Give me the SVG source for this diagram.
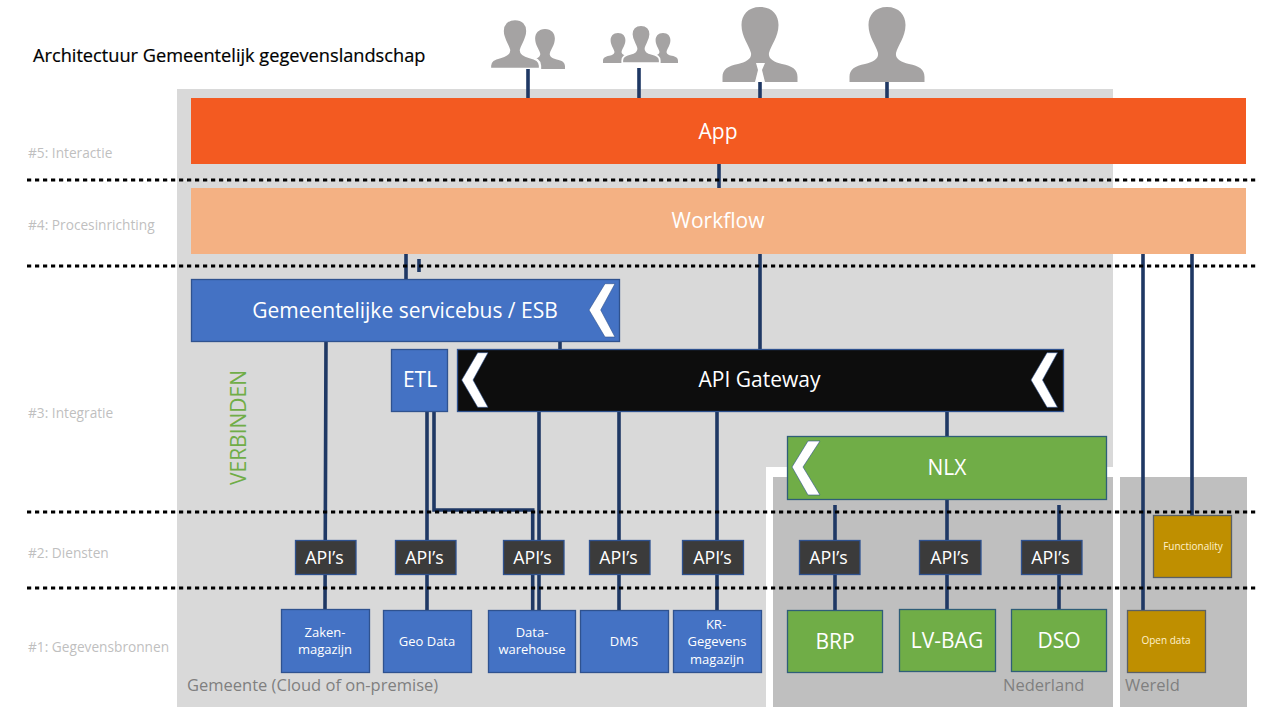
<svg xmlns="http://www.w3.org/2000/svg" xmlns:xlink="http://www.w3.org/1999/xlink" width="1280" height="720" viewBox="0 0 1280 720">
<style>
text{font-family:"Open Sans","Noto Sans","Liberation Sans",sans-serif;text-anchor:middle}
.bl{fill:#4472C4;stroke:#2F528F;stroke-width:1.3}
.gr{fill:#70AD47;stroke:#2F5E78;stroke-width:1.3}
.go{fill:#BF8F00;stroke:#5A6066;stroke-width:1.3}
.ap{fill:#3B3B3B;stroke:#2F528F;stroke-width:1.3}
.w{fill:#fff}
.t21{font-size:21px;fill:#fff}
.t13{font-size:13px;fill:#fff}
.t16{font-size:17.800px;fill:#fff}
.t10{font-size:10px;fill:#FFF2CC}
.lay{font-size:13.700px;fill:#BFBFBF;text-anchor:start}
.reg{font-size:16.500px;fill:#7F7F7F;text-anchor:start}
.ch{fill:#fff;stroke:#2F528F;stroke-width:.6}
#connectors path{fill:none;stroke:#1F3864;stroke-width:3.6}
#dots line{stroke:#000;stroke-width:3.2;stroke-dasharray:4.2 3.8}
.p{fill:#A5A3A3}
</style>
<defs>
<path id="person" d="M0 0C12 0 18.500 8 18.500 18C18.500 30 11 38 9 46C8 52 14 55 22 57C32 59 37.500 62 37.500 70L37.500 75L-37.500 75L-37.500 70C-37.500 62-32 59-22 57C-14 55-8 52-9 46C-11 38-18.500 30-18.500 18C-18.500 8-12 0 0 0Z"/>
</defs>
<rect width="1280" height="720" fill="#fff"/>
<g id="regions">
<rect x="177" y="89" width="936" height="378" fill="#D9D9D9"/>
<rect x="177" y="467" width="589" height="240" fill="#D9D9D9"/>
<rect x="773" y="477" width="340" height="230" fill="#BFBFBF"/>
<rect x="1120" y="477" width="127" height="230" fill="#BFBFBF"/>
<text class="reg" x="187" y="691">Gemeente (Cloud of on-premise)</text>
<text class="reg" x="1003" y="691">Nederland</text>
<text class="reg" x="1125" y="691">Wereld</text>
</g>
<g id="title"><text x="33" y="62" font-size="18.200" fill="#000" stroke="#000" stroke-width=".2" style="text-anchor:start">Architectuur Gemeentelijk gegevenslandschap</text></g>
<g id="layers">
<text class="lay" x="28" y="157.500">#5: Interactie</text>
<text class="lay" x="28" y="229.500">#4: Procesinrichting</text>
<text class="lay" x="28" y="417.500">#3: Integratie</text>
<text class="lay" x="28" y="557.500">#2: Diensten</text>
<text class="lay" x="28" y="651.500">#1: Gegevensbronnen</text>
<text x="238" y="427.500" font-size="21" fill="#70AD47" transform="rotate(-90 238 427.500)" dominant-baseline="central">VERBINDEN</text>
</g>
<g id="users" class="p">
<use xlink:href="#person" href="#person" transform="translate(545 29) scale(.533)"/>
<use xlink:href="#person" href="#person" transform="translate(515 19) scale(.667)" stroke="#fff" stroke-width="3.500"/>
<use xlink:href="#person" href="#person" transform="translate(618 33) scale(.4)"/>
<use xlink:href="#person" href="#person" transform="translate(663 33) scale(.4)"/>
<use xlink:href="#person" href="#person" transform="translate(641 25) scale(.5 .507)" stroke="#fff" stroke-width="3.500"/>
<use xlink:href="#person" href="#person" transform="translate(760 7)"/>
<path class="w" d="M756 63H765L762 70L765 82H755L758 70Z"/>
<use xlink:href="#person" href="#person" transform="translate(887 7)"/>
</g>
<g id="connectors">
<path d="M528 69V98M639 68V98M760 82V98M887 82V98M719 164V188M406 254V279M419 259V272M760 254V349M560 341V349"/>
<path d="M326 341L325 609M427 411V610M434 411V510H532.700V610M539 411V610M619 411V610M717 411V610"/>
<path d="M947 411V436M947 499V610M835 505V610M1059 505V610M1143 254V610M1192 254V515"/>
</g>
<g id="dots">
<line x1="27" y1="180" x2="1256" y2="180"/>
<line x1="27" y1="266" x2="1256" y2="266"/>
<line x1="27" y1="512" x2="1256" y2="512"/>
<line x1="27" y1="588" x2="1256" y2="588"/>
</g>
<g id="app"><rect x="191" y="98" width="1055" height="66" fill="#F35A21"/><text class="t21" x="718" y="139">App</text></g>
<g id="workflow"><rect x="191" y="188" width="1055" height="66" fill="#F4B183"/><text class="t21" x="718" y="228">Workflow</text></g>
<g id="esb"><rect class="bl" x="191.500" y="279.500" width="428" height="62"/><text class="t21" x="405" y="318">Gemeentelijke servicebus / ESB</text><path class="ch" d="M589 310L605 283.700H615L600.700 310L615 337H605Z"/></g>
<g id="etl"><rect class="bl" x="391.500" y="349.500" width="56" height="62"/><text class="t21" x="420" y="387">ETL</text></g>
<g id="gateway"><rect x="457.500" y="349.500" width="606" height="62" fill="#0D0D0D" stroke="#2F528F" stroke-width="1.300"/><text class="t21" x="759.500" y="387">API Gateway</text><path class="ch" d="M461.700 380L477.700 352.700H488L473 380L488 407.300H477.700Z"/><path class="ch" d="M1031 380L1047 352.700H1057.500L1042.500 380L1057.500 407.300H1047Z"/></g>
<g id="nlx"><rect class="gr" x="787.500" y="436.500" width="319" height="63"/><text class="t21" x="947" y="475">NLX</text><path class="ch" d="M792 467L808 441H820L803 467L820 495H808Z"/></g>
<g id="apis">
<g id="api1"><rect class="ap" x="295.500" y="540.500" width="60.500" height="34"/><text class="t16" x="324.500" y="563.500">API’s</text></g>
<g id="api2"><rect class="ap" x="395.500" y="540.500" width="60.500" height="34"/><text class="t16" x="424.500" y="563.500">API’s</text></g>
<g id="api3"><rect class="ap" x="503.500" y="540.500" width="60.500" height="34"/><text class="t16" x="532.500" y="563.500">API’s</text></g>
<g id="api4"><rect class="ap" x="589.500" y="540.500" width="60.500" height="34"/><text class="t16" x="618.500" y="563.500">API’s</text></g>
<g id="api5"><rect class="ap" x="682.500" y="540.500" width="61" height="34"/><text class="t16" x="712.500" y="563.500">API’s</text></g>
<g id="api6"><rect class="ap" x="799.500" y="540.500" width="60.500" height="34"/><text class="t16" x="828.500" y="563.500">API’s</text></g>
<g id="api7"><rect class="ap" x="919.500" y="540.500" width="61.500" height="34"/><text class="t16" x="949.500" y="563.500">API’s</text></g>
<g id="api8"><rect class="ap" x="1021.500" y="540.500" width="60.500" height="34"/><text class="t16" x="1050.500" y="563.500">API’s</text></g>
</g>
<g id="zaken"><rect class="bl" x="281.500" y="609.500" width="88" height="63"/><text class="t13" x="325" y="637">Zaken-</text><text class="t13" x="325" y="654">magazijn</text></g>
<g id="geo"><rect class="bl" x="383.500" y="610.500" width="88" height="62"/><text class="t13" x="427" y="646">Geo Data</text></g>
<g id="dwh"><rect class="bl" x="488.500" y="610.500" width="87" height="62"/><text class="t13" x="532" y="637">Data-</text><text class="t13" x="532" y="654">warehouse</text></g>
<g id="dms"><rect class="bl" x="580.500" y="610.500" width="88" height="62"/><text class="t13" x="624" y="646">DMS</text></g>
<g id="kr"><rect class="bl" x="673.500" y="610.500" width="88" height="62"/><text class="t13" x="716" y="629">KR-</text><text class="t13" x="717" y="646">Gegevens</text><text class="t13" x="717" y="664">magazijn</text></g>
<g id="brp"><rect class="gr" x="787.500" y="610.500" width="95" height="62"/><text class="t21" x="835" y="649">BRP</text></g>
<g id="bag"><rect class="gr" x="899.500" y="609.500" width="96" height="62"/><text class="t21" x="947" y="648">LV-BAG</text></g>
<g id="dso"><rect class="gr" x="1011.500" y="609.500" width="95" height="62"/><text class="t21" x="1059" y="648">DSO</text></g>
<g id="open"><rect class="go" x="1127.500" y="610.500" width="78" height="62"/><text class="t10" x="1166" y="644">Open data</text></g>
<g id="func"><rect class="go" x="1153.500" y="515.500" width="78" height="62"/><text class="t10" x="1193" y="550">Functionality</text></g>
</svg>
